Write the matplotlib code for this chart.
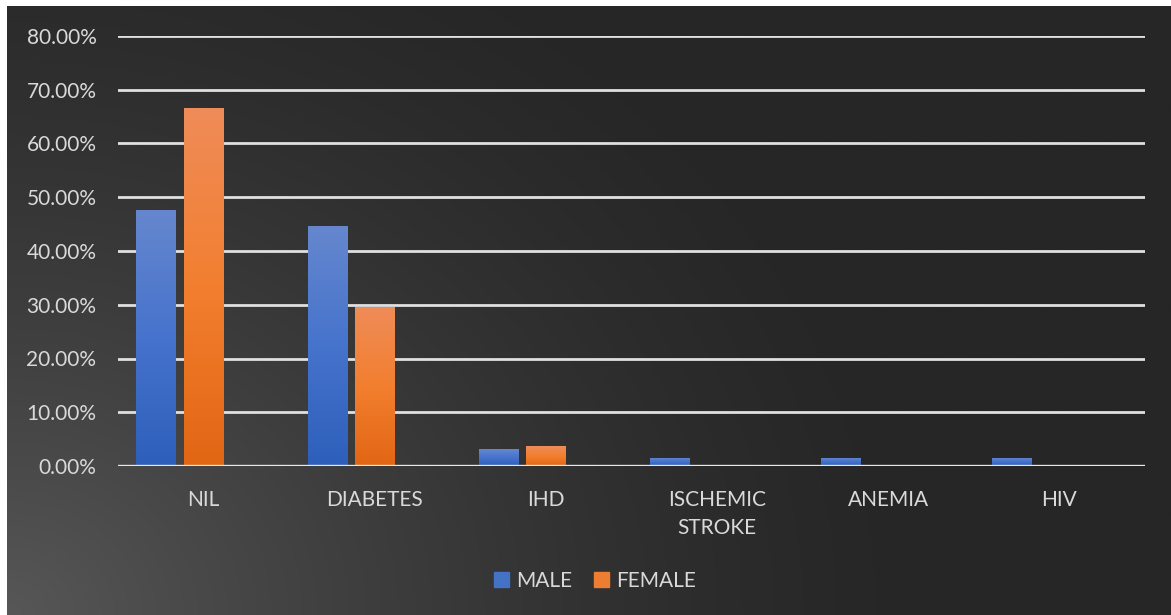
import numpy as np
import matplotlib.pyplot as plt
from matplotlib.colors import LinearSegmentedColormap
from matplotlib.patches import Patch
from matplotlib.ticker import FuncFormatter

# данные
categories = ['NIL', 'DIABETES', 'IHD', 'ISCHEMIC\nSTROKE', 'ANEMIA', 'HIV']
male = [0.4769, 0.4462, 0.0308, 0.0154, 0.0154, 0.0154]
female = [0.6667, 0.2963, 0.0370, 0, 0, 0]
series_names = ['MALE', 'FEMALE']

plt.rcParams['font.family'] = ['Lato', 'DejaVu Sans']
text_color = '#d9d9d9'

fig = plt.figure(figsize=(11.71, 6.15), dpi=100)
fig.patch.set_facecolor('white')

# фон с градиентом (светлее в левом нижнем углу)
bg = fig.add_axes([7 / 1171, 0, 1 - 7 / 1171, 1 - 6 / 615])
bg.set_axis_off()
yy, xx = np.mgrid[0:1:300j, 0:1:600j]
dist = np.sqrt((xx * 1.6) ** 2 + ((1 - yy) * 1.0) ** 2)
shade = np.clip(1 - dist / 1.3, 0, 1) ** 1.5
bg_cmap = LinearSegmentedColormap.from_list('bg', ['#262626', '#575757'])
bg.imshow(shade, cmap=bg_cmap, aspect='auto', extent=[0, 1, 0, 1], origin='upper')
bg.set_xlim(0, 1)
bg.set_ylim(0, 1)

ax = fig.add_axes([118 / 1171, 1 - 466 / 615, 1027 / 1171, 430 / 615])
ax.patch.set_alpha(0)

x = np.arange(len(categories))
w = 0.23
step = 0.277
# в Excel группа рассчитана на три серии, поэтому женский столбец стоит по центру
male_bars = ax.bar(x - step, male, w, color='#4472c4', zorder=3)
female_bars = ax.bar(x, female, w, color='#ed7d31', zorder=3)

# вертикальный градиент на столбцах
male_cmap = LinearSegmentedColormap.from_list('m', ['#2d5fba', '#4673cc', '#6687ce'])
female_cmap = LinearSegmentedColormap.from_list('f', ['#e26614', '#f27f2f', '#ef8c59'])
grad = np.linspace(0, 1, 256).reshape(-1, 1)
for bars, cmap in [(male_bars, male_cmap), (female_bars, female_cmap)]:
    for b in bars:
        h = b.get_height()
        if h <= 0:
            continue
        x0 = b.get_x()
        im = ax.imshow(grad, cmap=cmap, aspect='auto', origin='lower',
                       extent=[x0, x0 + b.get_width(), 0, h], zorder=4)
        im.set_clip_path(b)

ax.set_xlim(-0.5, len(categories) - 0.5)
ax.set_ylim(0, 0.8)
ax.set_yticks(np.arange(0, 0.81, 0.1))
ax.yaxis.set_major_formatter(FuncFormatter(lambda v, p: f'{v * 100:.2f}%'))
ax.grid(axis='y', color='#e0e0e0', linewidth=2, zorder=1)
ax.set_xticks(x)
ax.set_xticklabels(categories, linespacing=1.55)
ax.tick_params(axis='both', length=0, colors=text_color, labelsize=15)
ax.tick_params(axis='y', pad=15.5)
ax.tick_params(axis='x', pad=17)
for s in ax.spines.values():
    s.set_visible(False)
ax.axhline(0, color='#e8e8e8', linewidth=2.4, zorder=5)

handles = [Patch(color='#4472c4'), Patch(color='#ed7d31')]
fig.legend(handles, series_names, loc='center', bbox_to_anchor=(595 / 1171, 1 - 581 / 615),
           ncol=2, frameon=False, fontsize=15, labelcolor=text_color,
           handlelength=0.75, handleheight=0.75, handletextpad=0.35, columnspacing=1.0)

plt.savefig('out.png', dpi=100)
